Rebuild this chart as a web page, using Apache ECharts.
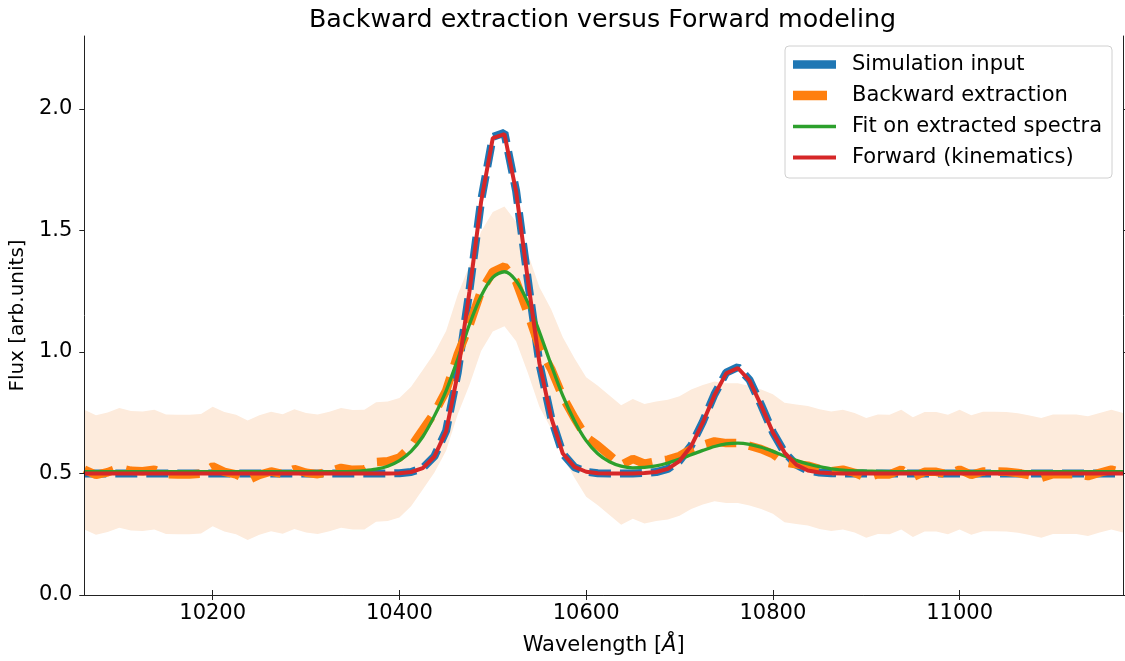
<!DOCTYPE html>
<html>
<head>
<meta charset="utf-8">
<script src="https://cdn.jsdelivr.net/npm/echarts@6/dist/echarts.min.js"></script>
<style>
  html, body { margin: 0; padding: 0; background: #fff; }
  #chart { width: 1125px; height: 661px; }
</style>
</head>
<body>
<div id="chart"></div>
<script>
// wavelength grid [Angstrom]
const wavelength = [
  10062.5, 10075, 10087.5, 10100, 10112.5, 10125, 10137.5, 10150, 10162.5, 10175,
  10187.5, 10200, 10212.5, 10225, 10237.5, 10250, 10262.5, 10275, 10287.5, 10300,
  10312.5, 10325, 10337.5, 10350, 10362.5, 10375, 10387.5, 10400, 10412.5, 10425,
  10437.5, 10450, 10462.5, 10475, 10487.5, 10500, 10512.5, 10525, 10537.5, 10550,
  10562.5, 10575, 10587.5, 10600, 10612.5, 10625, 10637.5, 10650, 10662.5, 10675,
  10687.5, 10700, 10712.5, 10725, 10737.5, 10750, 10762.5, 10775, 10787.5, 10800,
  10812.5, 10825, 10837.5, 10850, 10862.5, 10875, 10887.5, 10900, 10912.5, 10925,
  10937.5, 10950, 10962.5, 10975, 10987.5, 11000, 11012.5, 11025, 11037.5, 11050,
  11062.5, 11075, 11087.5, 11100, 11112.5, 11125, 11137.5, 11150, 11162.5, 11175
];

const simInput = [
  0.5, 0.5, 0.5, 0.5, 0.5, 0.5, 0.5, 0.5, 0.5, 0.5,
  0.5, 0.5, 0.5, 0.5, 0.5, 0.5, 0.5, 0.5, 0.5, 0.5,
  0.5, 0.5, 0.5, 0.5, 0.5, 0.5, 0.5, 0.501, 0.506, 0.522,
  0.571, 0.675, 0.916, 1.253, 1.622, 1.885, 1.902, 1.662, 1.298, 0.951,
  0.730, 0.581, 0.526, 0.507, 0.501, 0.5, 0.5, 0.5, 0.502, 0.506,
  0.519, 0.552, 0.615, 0.713, 0.826, 0.915, 0.938, 0.885, 0.781, 0.670,
  0.586, 0.536, 0.512, 0.504, 0.501, 0.5, 0.5, 0.5, 0.5, 0.5,
  0.5, 0.5, 0.5, 0.5, 0.5, 0.5, 0.5, 0.5, 0.5, 0.5,
  0.5, 0.5, 0.5, 0.5, 0.5, 0.5, 0.5, 0.5, 0.5, 0.5
];

const backward = [
  0.516, 0.494, 0.505, 0.523, 0.511, 0.509, 0.516, 0.497, 0.496, 0.496,
  0.499, 0.529, 0.507, 0.496, 0.472, 0.494, 0.508, 0.498, 0.518, 0.503,
  0.497, 0.508, 0.523, 0.515, 0.516, 0.547, 0.550, 0.565, 0.611, 0.680,
  0.750, 0.840, 0.990, 1.110, 1.250, 1.330, 1.352, 1.290, 1.160, 1.020,
  0.930, 0.815, 0.728, 0.650, 0.615, 0.575, 0.535, 0.560, 0.540, 0.550,
  0.557, 0.572, 0.600, 0.618, 0.632, 0.625, 0.625, 0.614, 0.600, 0.580,
  0.545, 0.538, 0.532, 0.518, 0.509, 0.516, 0.503, 0.482, 0.497, 0.496,
  0.516, 0.485, 0.507, 0.507, 0.496, 0.516, 0.494, 0.508, 0.508, 0.507,
  0.502, 0.493, 0.482, 0.497, 0.497, 0.497, 0.489, 0.503, 0.516, 0.503
];

// 1-sigma half width of the extraction
const backwardErr = [
  0.246, 0.246, 0.246, 0.246, 0.246, 0.246, 0.246, 0.246, 0.246, 0.246,
  0.246, 0.246, 0.246, 0.246, 0.246, 0.246, 0.246, 0.246, 0.246, 0.246,
  0.246, 0.246, 0.246, 0.246, 0.246, 0.246, 0.246, 0.246, 0.246, 0.246,
  0.246, 0.246, 0.246, 0.246, 0.246, 0.246, 0.246, 0.246, 0.246, 0.246,
  0.246, 0.246, 0.246, 0.246, 0.246, 0.246, 0.246, 0.246, 0.246, 0.246,
  0.246, 0.246, 0.246, 0.246, 0.246, 0.246, 0.246, 0.246, 0.246, 0.246,
  0.246, 0.246, 0.246, 0.246, 0.246, 0.246, 0.246, 0.246, 0.246, 0.246,
  0.246, 0.246, 0.246, 0.246, 0.246, 0.246, 0.246, 0.246, 0.246, 0.246,
  0.246, 0.246, 0.246, 0.246, 0.246, 0.246, 0.246, 0.246, 0.246, 0.246
];

const fitExtracted = [
  0.508, 0.508, 0.508, 0.508, 0.508, 0.508, 0.508, 0.508, 0.508, 0.508,
  0.508, 0.508, 0.508, 0.508, 0.508, 0.508, 0.508, 0.508, 0.508, 0.508,
  0.508, 0.508, 0.508, 0.509, 0.512, 0.518, 0.530, 0.553, 0.591, 0.651,
  0.737, 0.840, 0.970, 1.113, 1.230, 1.307, 1.330, 1.293, 1.204, 1.082,
  0.947, 0.820, 0.716, 0.635, 0.581, 0.548, 0.530, 0.523, 0.525, 0.531,
  0.543, 0.559, 0.577, 0.595, 0.611, 0.622, 0.625, 0.620, 0.608, 0.591,
  0.572, 0.554, 0.539, 0.528, 0.519, 0.514, 0.511, 0.510, 0.509, 0.508,
  0.508, 0.508, 0.508, 0.508, 0.508, 0.508, 0.508, 0.508, 0.508, 0.508,
  0.508, 0.508, 0.508, 0.508, 0.508, 0.508, 0.508, 0.508, 0.508, 0.508
];

const forwardKin = [
  0.5, 0.5, 0.5, 0.5, 0.5, 0.5, 0.5, 0.5, 0.5, 0.5,
  0.5, 0.5, 0.5, 0.5, 0.5, 0.5, 0.5, 0.5, 0.5, 0.5,
  0.5, 0.5, 0.5, 0.5, 0.5, 0.5, 0.5, 0.501, 0.506, 0.522,
  0.570, 0.673, 0.912, 1.248, 1.618, 1.880, 1.896, 1.660, 1.298, 0.953,
  0.731, 0.582, 0.527, 0.507, 0.501, 0.5, 0.5, 0.5, 0.502, 0.506,
  0.519, 0.551, 0.613, 0.710, 0.823, 0.912, 0.934, 0.882, 0.779, 0.669,
  0.586, 0.536, 0.512, 0.504, 0.501, 0.5, 0.5, 0.5, 0.5, 0.5,
  0.5, 0.5, 0.5, 0.5, 0.5, 0.5, 0.5, 0.5, 0.5, 0.5,
  0.5, 0.5, 0.5, 0.5, 0.5, 0.5, 0.5, 0.5, 0.5, 0.5
];

const xTicks = [10200, 10400, 10600, 10800, 11000];
const yTicks = [0, 0.5, 1.0, 1.5, 2.0];

const FONT = 'DejaVu Sans';
const pairs = (ys) => wavelength.map((x, i) => [x, ys[i]]);

const spine = { color: '#222', width: 1 };
const tick = (vals) => ({ show: true, inside: false, length: 5, customValues: vals, lineStyle: spine });

// legend handles: a bar inside a fixed 43x14 box (the two moveTo points pin the box)
const handle = (len, thick) =>
  'path://M0,0M43,14M0,' + (7 - thick / 2) + 'h' + len + 'v' + thick + 'h-' + len + 'z';
const legendItem = (name, color, len, thick) => ({
  name, icon: handle(len, thick), itemStyle: { color, borderWidth: 0 }
});

const chart = echarts.init(document.getElementById('chart'));
chart.setOption({
  animation: false,
  title: {
    text: 'Backward extraction versus Forward modeling',
    left: 304,
    top: 3,
    textStyle: { fontFamily: FONT, fontSize: 25.3, fontWeight: 'normal', color: '#000' }
  },
  grid: { left: 82, right: 2, top: 36, bottom: 65 },
  legend: {
    orient: 'vertical',
    left: 785,
    top: 46,
    padding: [8, 10, 10, 8],
    itemWidth: 43,
    itemHeight: 14,
    itemGap: 10,
    itemTextGap: 5,
    symbolKeepAspect: true,
    backgroundColor: 'rgba(255,255,255,0.8)',
    borderColor: '#d0d0d0',
    borderWidth: 1,
    borderRadius: 4,
    textStyle: { fontFamily: FONT, fontSize: 21, color: '#000', padding: [0, 0, 0, 11] },
    data: [
      legendItem('Simulation input', '#1f77b4', 43, 8.7),
      legendItem('Backward extraction', '#ff7f0e', 34, 9.3),
      legendItem('Fit on extracted spectra', '#2ca02c', 43, 3.3),
      legendItem('Forward (kinematics)', '#d62728', 43, 4)
    ]
  },
  xAxis: [
    {
      type: 'value', position: 'bottom', min: 10062.5, max: 11175,
      name: 'Wavelength [{i|Å}]', nameLocation: 'middle', nameGap: 40,
      nameTextStyle: { fontFamily: FONT, fontSize: 21, color: '#000',
        rich: { i: { fontFamily: FONT, fontSize: 21, fontStyle: 'italic', color: '#000' } } },
      axisLine: { lineStyle: spine }, axisTick: tick(xTicks), splitLine: { show: false },
      axisLabel: { customValues: xTicks, margin: 8, fontFamily: FONT, fontSize: 21, color: '#000',
        formatter: (v) => String(v) },
      z: 10
    },
    {
      type: 'value', position: 'top', min: 10062.5, max: 11175,
      axisLine: { lineStyle: spine }, axisTick: tick(xTicks), splitLine: { show: false },
      axisLabel: { show: false }, z: 10
    }
  ],
  yAxis: [
    {
      type: 'value', position: 'left', min: 0, max: 2.3,
      name: 'Flux [arb.units]', nameLocation: 'middle', nameGap: 52, nameRotate: 90,
      nameTextStyle: { fontFamily: FONT, fontSize: 20, color: '#000' },
      axisLine: { show: true, lineStyle: spine }, axisTick: tick(yTicks), splitLine: { show: false },
      axisLabel: { customValues: yTicks, margin: 12, fontFamily: FONT, fontSize: 21, color: '#000',
        formatter: (v) => v.toFixed(1) },
      z: 10
    },
    {
      type: 'value', position: 'right', min: 0, max: 2.3,
      axisLine: { show: true, lineStyle: spine }, axisTick: tick(yTicks), splitLine: { show: false },
      axisLabel: { show: false }, z: 10
    }
  ],
  series: [
    {
      // shaded error band around the backward extraction
      type: 'custom',
      silent: true,
      z: 1,
      data: [[wavelength[0], backward[0]]],
      renderItem: (params, api) => {
        const pts = [];
        wavelength.forEach((x, i) => pts.push(api.coord([x, backward[i] + backwardErr[i]])));
        for (let i = wavelength.length - 1; i >= 0; i--) {
          pts.push(api.coord([wavelength[i], backward[i] - backwardErr[i]]));
        }
        return { type: 'polygon', shape: { points: pts }, style: { fill: '#fdebdc' } };
      }
    },
    {
      name: 'Simulation input', type: 'line', data: pairs(simInput), symbol: 'none', z: 2,
      color: '#1f77b4',
      lineStyle: { color: '#1f77b4', width: 8, type: [22, 9] }
    },
    {
      name: 'Backward extraction', type: 'line', data: pairs(backward), symbol: 'none', z: 3,
      color: '#ff7f0e',
      lineStyle: { color: '#ff7f0e', width: 8.5, type: [31, 13] }
    },
    {
      name: 'Fit on extracted spectra', type: 'line', data: pairs(fitExtracted), symbol: 'none', z: 4,
      smooth: 0.3, color: '#2ca02c',
      lineStyle: { color: '#2ca02c', width: 3.3 }
    },
    {
      name: 'Forward (kinematics)', type: 'line', data: pairs(forwardKin), symbol: 'none', z: 5,
      color: '#d62728',
      lineStyle: { color: '#d62728', width: 4 }
    }
  ]
});
</script>
</body>
</html>
